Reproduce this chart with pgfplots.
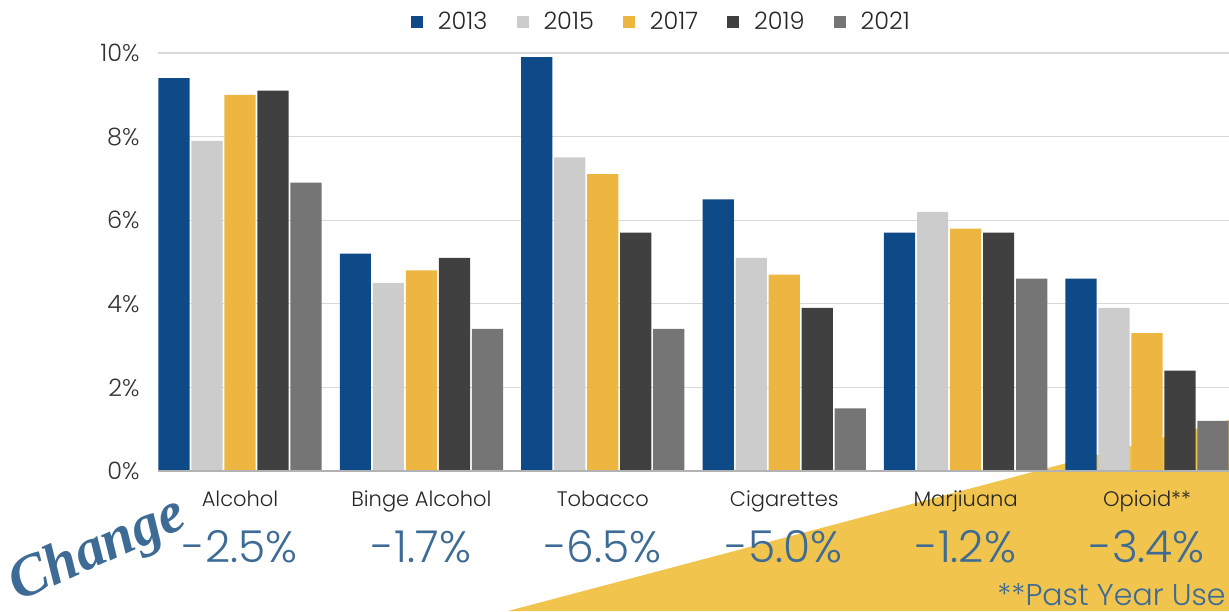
\documentclass[border=0pt]{standalone}
\usepackage{pgfplots}
\pgfplotsset{compat=1.18}
\usepackage{fontspec}
\IfFontExistsTF{Poppins Light}{\setmainfont{Poppins Light}}{\setmainfont{Poppins}}
\newfontfamily\scriptf{Liberation Serif}
\definecolor{cA}{HTML}{0F4A88}
\definecolor{cB}{HTML}{CCCCCC}
\definecolor{cC}{HTML}{EDB641}
\definecolor{cD}{HTML}{404040}
\definecolor{cE}{HTML}{757575}
\definecolor{tri}{HTML}{F0C44D}
\definecolor{cblue}{HTML}{3E6B95}
\tikzset{chg/.style={anchor=base, font=\fontsize{22}{26}\selectfont, text=cblue}}
\begin{document}
\begin{tikzpicture}
\useasboundingbox (0,0) rectangle (614.5pt,305.5pt);
\fill[tri] (254pt,0) -- (614.5pt,95.5pt) -- (614.5pt,0) -- cycle;
\begin{axis}[
  at={(79pt,70pt)}, anchor=south west, scale only axis,
  width=535.5pt, height=209pt,
  xmin=-0.452, xmax=5.452, ymin=0, ymax=10,
  ybar, bar width=0.172,
  clip=false,
  axis line style={draw=none},
  major tick length=0pt,
  ymajorgrids, grid style={draw=black!15, line width=0.6pt},
  xtick={0,1,2,3,4,5},
  xticklabels={Alcohol,Binge Alcohol,Tobacco,Cigarettes,Marjiuana,Opioid**},
  xticklabel style={anchor=base, yshift=-17.5pt, font=\fontsize{10.5}{12}\selectfont, text=black!85},
  ytick={0,2,4,6,8,10},
  yticklabels={0\%,2\%,4\%,6\%,8\%,10\%},
  yticklabel style={anchor=east, inner sep=0pt, xshift=-9pt, font=\fontsize{12}{14}\selectfont, text=black!80},
  legend image code/.code={\fill[#1] (0pt,-3pt) rectangle (6pt,3pt);},
  legend columns=5,
  legend style={draw=none, fill=none, at={(0.471,1.074)}, anchor=center,
    font=\fontsize{12}{14}\selectfont, text=black!85,
    /tikz/every odd column/.append style={column sep=5.5pt},
    /tikz/every even column/.append style={column sep=12.5pt}},
]
\addplot[fill=cA, draw=none, bar shift=-0.364] coordinates {(0,9.4) (1,5.2) (2,9.9) (3,6.5) (4,5.7) (5,4.6)};
\addplot[fill=cB, draw=none, bar shift=-0.182] coordinates {(0,7.9) (1,4.5) (2,7.5) (3,5.1) (4,6.2) (5,3.9)};
\addplot[fill=cC, draw=none, bar shift=0] coordinates {(0,9.0) (1,4.8) (2,7.1) (3,4.7) (4,5.8) (5,3.3)};
\addplot[fill=cD, draw=none, bar shift=0.182] coordinates {(0,9.1) (1,5.1) (2,5.7) (3,3.9) (4,5.7) (5,2.4)};
\addplot[fill=cE, draw=none, bar shift=0.364] coordinates {(0,6.9) (1,3.4) (2,3.4) (3,1.5) (4,4.6) (5,1.2)};
\legend{2013,2015,2017,2019,2021}
\draw[black!30, line width=0.8pt] (axis cs:-0.452,0) -- (axis cs:5.452,0);
\node[chg] at (axis cs:0,-2.2) {-2.5\%};
\node[chg] at (axis cs:1,-2.2) {-1.7\%};
\node[chg] at (axis cs:2,-2.2) {-6.5\%};
\node[chg] at (axis cs:3,-2.2) {-5.0\%};
\node[chg] at (axis cs:4,-2.2) {-1.2\%};
\node[chg] at (axis cs:5,-2.2) {-3.4\%};
\end{axis}
\node[anchor=base east, inner sep=0pt, font=\fontsize{15}{17}\selectfont, text=cblue] at (613pt,3pt) {**Past Year Use};
\node[rotate=24, inner sep=0pt, font=\scriptf\bfseries\itshape\fontsize{29}{31}\selectfont, text=cblue] at (49pt,30pt) {Change};
\end{tikzpicture}
\end{document}
